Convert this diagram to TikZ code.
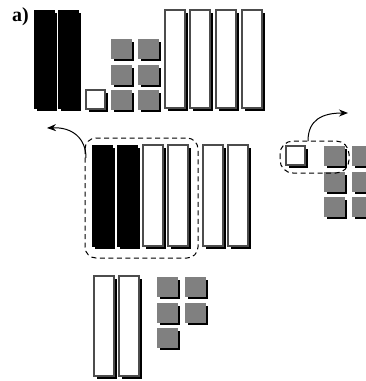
\documentclass[tikz,border=0pt]{standalone}
\usepackage{fontspec}
\setmainfont{Liberation Serif}
\usetikzlibrary{arrows.meta}
\tikzset{
  shadowed/.style={preaction={fill=black, transform canvas={shift={(2.6pt,-2.6pt)}}}},
  blackbar/.style={shadowed, fill=black, draw=black, line width=0.6pt, minimum width=20pt, minimum height=98pt, inner sep=0pt, outer sep=0pt, anchor=north west},
  whitebar/.style={shadowed, fill=white, draw=black!70, line width=1.2pt, minimum width=20pt, minimum height=98pt, inner sep=0pt, outer sep=0pt, anchor=north west},
  whitesq/.style={shadowed, fill=white, draw=black!70, line width=1.2pt, minimum width=19pt, minimum height=19pt, inner sep=0pt, outer sep=0pt, anchor=north west},
  graysq/.style={shadowed, fill=black!50, draw=black!50, line width=0.6pt, minimum width=20pt, minimum height=19pt, inner sep=0pt, outer sep=0pt, anchor=north west},
  group/.style={draw=black, dashed, dash pattern=on 5pt off 3.5pt, line width=1pt, fill=none},
  move/.style={-{Stealth[length=9pt,width=7pt]}, line width=1pt, black},
}
\begin{document}
\begin{tikzpicture}[x=1pt,y=-1pt]
\useasboundingbox (0,0) rectangle (366,381);
\clip (0,0) rectangle (366,381);
\node[font=\bfseries\fontsize{20}{22}\selectfont, anchor=north west, inner sep=0pt] (lbl) at (12,7) {a)};
% top row
\node[blackbar] (tb1) at (34,10) {};
\node[blackbar] (tb2) at (58,10) {};
\node[whitesq] (tw) at (86,90) {};
\node[graysq] (tg1) at (111,39) {};
\node[graysq] (tg2) at (138,39) {};
\node[graysq] (tg3) at (111,65) {};
\node[graysq] (tg4) at (138,65) {};
\node[graysq] (tg5) at (111,90) {};
\node[graysq] (tg6) at (138,90) {};
\node[whitebar] (tw1) at (165,10) {};
\node[whitebar] (tw2) at (190,10) {};
\node[whitebar] (tw3) at (216,10) {};
\node[whitebar] (tw4) at (242,10) {};
% middle row
\node[blackbar, minimum height=101pt] (mb1) at (92,145) {};
\node[blackbar, minimum height=101pt] (mb2) at (117,145) {};
\node[whitebar, minimum height=101pt] (mw1) at (143,145) {};
\node[whitebar, minimum height=101pt] (mw2) at (168,145) {};
\node[whitebar, minimum height=101pt] (mw3) at (203,145) {};
\node[whitebar, minimum height=101pt] (mw4) at (228,145) {};
\draw[group, rounded corners=11pt] (85,138) rectangle (198,258);
\coordinate (la) at (86,158);
\coordinate (lt) at (47,128);
\draw[move] (la) .. controls (86,138) and (72,127) .. (lt);
% right group
\node[whitesq] (rw) at (286,146) {};
\node[graysq] (rg1) at (324,146) {};
\node[graysq] (rg2) at (352,146) {};
\node[graysq] (rg3) at (324,172) {};
\node[graysq] (rg4) at (352,172) {};
\node[graysq] (rg5) at (324,197) {};
\node[graysq] (rg6) at (352,197) {};
\draw[group, rounded corners=13pt] (280,141) rectangle (349,173);
\coordinate (ra) at (308,141);
\coordinate (rt) at (348,113);
\draw[move] (ra) .. controls (308,120) and (322,113) .. (rt);
% bottom group
\node[whitebar, minimum height=100pt] (bw1) at (94,276) {};
\node[whitebar, minimum height=100pt] (bw2) at (119,276) {};
\node[graysq] (bg1) at (157,277) {};
\node[graysq] (bg2) at (185,277) {};
\node[graysq] (bg3) at (157,303) {};
\node[graysq] (bg4) at (185,303) {};
\node[graysq] (bg5) at (157,328) {};
\end{tikzpicture}
\end{document}
